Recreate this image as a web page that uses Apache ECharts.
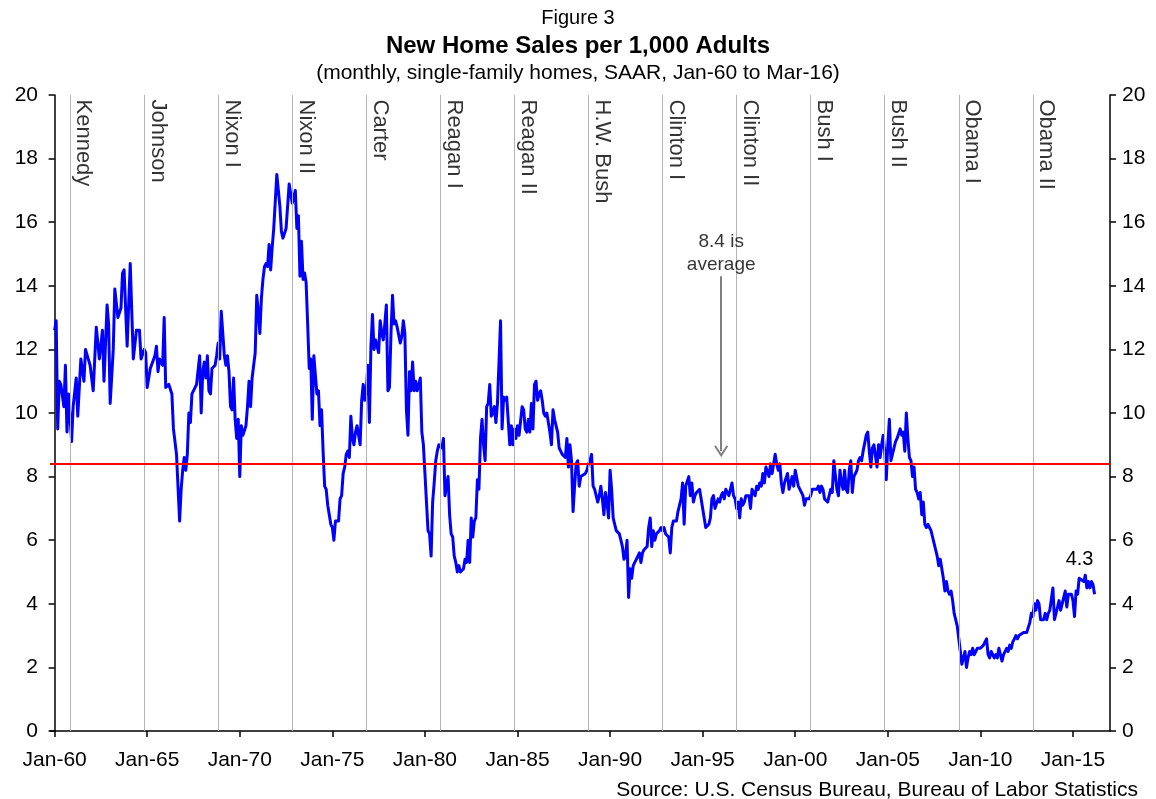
<!DOCTYPE html>
<html>
<head>
<meta charset="utf-8">
<title>New Home Sales per 1,000 Adults</title>
<script src="https://cdn.jsdelivr.net/npm/echarts@6/dist/echarts.min.js"></script>
<style>
  html, body { margin: 0; padding: 0; background: #fff; }
  #main { width: 1156px; height: 799px; }
</style>
</head>
<body>
<div id="main"></div>
<script>
  // months since Jan-60 (monthly series, vertices)
  const monthIdx = [
    0,1,2,3,4,6,7,8,9,11,12,14,15,17,19,20,23,25,27,29,31,32,34,35,36,38,39,41,43,44,45,47,49,51,53,55,56,58,59,
    60,62,63,65,66,67,68,70,71,72,74,76,77,79,80,81,82,83,84,85,86,87,88,89,91,92,94,95,96,97,98,99,100,101,102,104,105,106,107,108,109,
    110,111,112,113,114,115,116,117,118,119,120,121,122,124,125,126,127,128,129,130,131,132,133,134,135,136,137,138,139,140,141,142,144,146,147,148,150,151,152,153,154,156,157,158,159,
    160,161,162,163,164,165,166,167,168,170,171,172,173,174,175,176,177,178,179,180,181,182,184,185,186,187,188,189,190,191,192,193,194,195,196,198,199,200,201,202,203,204,205,206,207,208,210,211,212,213,214,215,216,217,218,219,
    220,221,222,224,225,226,227,228,229,230,231,232,233,234,235,237,238,239,240,241,242,243,244,245,246,247,248,249,251,252,253,254,255,256,257,258,259,260,261,262,263,265,266,267,268,269,270,271,272,273,274,275,276,277,278,279,
    280,281,282,283,284,285,286,287,289,290,291,292,293,295,296,297,298,299,300,301,303,304,305,306,307,308,309,310,311,312,313,314,315,316,317,318,319,321,322,323,324,325,326,327,328,329,331,332,333,334,335,336,337,338,339,
    340,341,342,344,345,346,347,348,349,350,352,353,354,355,356,357,358,359,360,361,362,363,364,366,367,368,369,370,371,372,373,374,375,376,377,378,379,380,381,382,384,385,386,387,388,389,390,391,392,393,394,395,396,398,399,
    400,401,403,404,405,406,407,408,409,411,412,413,414,415,416,417,418,419,420,421,422,424,425,426,427,428,429,430,431,432,433,434,435,437,438,439,440,441,442,443,444,445,446,447,448,450,451,452,453,454,455,456,457,458,459,
    460,461,463,464,465,466,467,468,469,470,471,472,473,475,476,477,478,479,480,481,482,483,485,486,487,488,489,490,491,492,494,495,496,497,498,499,500,501,502,503,504,505,507,508,509,510,511,512,513,514,515,516,517,518,520,
    521,522,523,524,525,526,527,528,529,530,531,533,534,535,536,537,538,539,540,541,542,543,544,545,546,547,548,549,550,551,552,553,554,555,556,557,558,559,560,561,562,563,564,565,566,567,568,569,570,571,572,573,574,575,576,
    577,578,579,580,581,582,583,584,585,586,588,589,590,591,592,593,594,595,596,597,598,600,601,602,603,604,605,606,607,608,609,610,611,612,614,615,616,617,618,619,620,621,622,623,624,625,626,628,629,630,631,632,633,634,635,
    636,637,638,639,641,642,643,644,645,646,647,648,649,650,651,652,654,655,656,657,658,659,660,661,662,663,664,665,667,668,669,670,671,672,673,674
  ];
  // new home sales per 1,000 adults
  const sales = [
    12.6,12.9,9.5,11.0,10.9,10.2,11.5,9.4,10.6,9.1,10.2,11.1,9.9,11.7,11.0,12.0,11.5,10.7,12.7,11.7,12.6,11.0,13.4,12.8,10.3,12.0,13.9,13.0,13.3,14.4,14.5,12.1,14.7,11.7,12.6,12.6,11.7,12.0,11.9,
    10.8,11.4,11.4,11.8,12.1,11.3,11.7,11.5,13.0,10.8,10.9,10.6,9.5,8.7,8.7,6.6,7.6,8.2,8.6,8.2,8.7,10.0,9.7,10.6,10.8,10.9,11.8,10.0,11.3,11.6,11.1,11.8,10.7,10.6,11.4,11.5,11.8,12.2,11.7,13.2,12.5,
    11.8,11.5,11.8,11.3,10.2,10.1,11.1,9.8,9.2,9.8,8.0,9.6,9.3,9.6,10.2,11.0,10.2,11.1,11.5,11.9,13.7,13.2,12.5,13.6,14.2,14.6,14.7,14.6,15.3,14.5,15.2,15.8,17.5,16.5,15.7,15.5,15.8,15.8,17.2,17.2,16.6,17.0,15.8,16.2,14.3,
    15.4,14.2,14.4,14.1,12.8,11.4,11.7,9.8,11.8,10.6,10.7,9.6,10.1,8.8,7.7,7.6,7.1,6.8,6.5,6.4,6.0,6.6,6.6,7.3,7.4,8.1,8.3,8.7,8.8,8.6,9.9,9.2,9.0,9.4,9.6,9.0,10.4,10.9,10.4,10.7,11.5,9.7,12.1,13.1,12.0,12.3,11.9,12.9,12.5,12.3,12.8,13.4,10.7,10.8,12.5,13.7,
    12.8,12.9,12.7,12.2,12.4,12.9,12.5,10.1,9.3,11.3,10.7,11.6,10.7,11.0,10.7,11.1,9.4,9.0,8.1,8.1,6.3,6.2,5.5,7.2,7.8,8.5,8.8,9.0,8.9,9.2,7.4,7.4,8.0,6.8,6.2,6.1,5.5,5.3,5.0,5.2,5.0,5.1,5.4,5.3,6.0,5.3,6.7,6.1,6.6,6.7,7.9,7.6,9.2,9.8,9.0,8.5,
    10.2,10.3,10.9,9.9,10.0,10.2,9.7,10.3,12.9,9.5,10.5,10.4,10.5,9.0,9.6,9.0,9.5,9.2,9.6,9.3,10.2,10.1,9.5,9.4,9.8,9.4,10.3,9.5,10.9,11.0,10.4,10.6,10.7,10.4,10.0,9.9,10.0,9.4,9.0,10.1,9.8,9.8,9.4,8.9,8.8,8.7,8.6,9.2,8.3,9.0,8.5,6.9,7.7,8.4,8.5,
    7.7,8.0,8.0,8.1,8.2,8.4,8.5,8.7,7.7,7.6,7.2,7.4,7.7,7.3,6.8,7.5,7.2,6.7,8.2,7.6,6.7,6.5,6.3,6.2,6.0,5.8,5.4,5.5,6.0,4.2,5.1,4.8,5.2,5.3,5.4,5.5,5.6,5.3,5.6,5.7,5.8,6.4,6.7,5.8,6.3,6.0,6.2,6.2,6.3,6.4,6.3,6.4,6.2,6.1,5.6,
    6.4,6.6,6.6,6.9,7.1,7.3,7.8,6.5,7.7,8.0,7.4,7.8,7.2,7.4,7.5,7.5,7.6,7.3,7.0,6.7,6.4,6.5,6.7,7.3,7.4,7.0,7.0,7.3,7.2,7.4,7.5,7.3,7.6,7.4,7.6,7.8,7.4,7.3,7.0,7.2,6.7,7.3,7.1,7.2,7.4,7.4,7.0,7.6,7.5,7.4,7.7,7.6,7.8,7.7,8.1,
    7.8,8.3,8.0,8.4,8.1,8.4,8.7,8.4,8.2,8.4,7.8,7.5,7.8,8.1,7.6,7.6,8.0,7.7,8.2,8.2,7.7,7.7,7.4,7.1,7.3,7.3,7.3,7.4,7.6,7.6,7.6,7.7,7.5,7.7,7.6,7.3,7.3,7.2,7.4,7.6,7.5,8.5,7.6,7.4,8.2,7.8,7.6,8.2,7.6,7.5,8.2,8.5,7.5,8.0,8.2,
    8.5,8.6,8.5,8.8,8.8,9.3,9.4,8.8,8.3,8.9,9.0,8.3,9.0,8.6,9.0,9.3,8.8,7.9,9.0,9.8,8.5,8.7,8.9,9.1,9.2,9.2,9.5,9.3,9.4,8.8,10.0,9.2,8.6,8.5,8.0,8.3,7.6,7.5,7.3,7.5,6.8,7.2,6.5,6.4,6.5,6.4,6.3,6.1,5.9,5.7,5.5,5.2,5.4,5.1,4.8,
    4.4,4.7,4.4,4.3,4.4,4.1,3.7,3.5,3.3,2.9,2.1,2.3,2.5,2.0,2.3,2.5,2.4,2.6,2.4,2.5,2.6,2.6,2.6,2.7,2.8,2.9,2.4,2.3,2.5,2.5,2.3,2.4,2.3,2.6,2.2,2.4,2.4,2.6,2.5,2.7,2.6,2.8,2.9,3.0,2.9,3.0,3.0,3.1,3.1,3.1,3.1,3.4,3.7,3.6,4.0,
    3.8,4.1,4.0,3.5,3.5,3.7,3.5,3.7,3.8,3.8,4.5,3.5,3.7,3.9,4.1,3.8,4.2,4.4,3.9,4.3,4.3,4.3,4.1,3.6,4.4,4.3,4.8,4.8,4.7,4.9,4.5,4.7,4.5,4.7,4.6,4.3
  ];

  // x axis ticks every 5 years (Jan), in months since Jan-60
  const tickMonths = [0, 60, 120, 180, 240, 300, 360, 420, 480, 540, 600, 660];
  // presidential terms, line drawn at the November election before each term
  const presidents = ['Kennedy', 'Johnson', 'Nixon I', 'Nixon II', 'Carter', 'Reagan I', 'Reagan II',
    'H.W. Bush', 'Clinton I', 'Clinton II', 'Bush I', 'Bush II', 'Obama I', 'Obama II'];
  const electionMonth = [10, 58, 106, 154, 202, 250, 298, 346, 394, 442, 490, 538, 586, 634];
  const average = 8.4;
  const arrowMonth = 432;
  const arrowFrom = 14.3;
  const arrowTo = 8.8;
  const lastLabel = '4.3';

  const FONT = 'Liberation Sans, Arial, sans-serif';

  function monthLabel(m) {
    const yy = (1960 + Math.round(m / 12)) % 100;
    return 'Jan-' + (yy < 10 ? '0' + yy : yy);
  }

  const lineData = monthIdx.map((m, i) => [m, sales[i]]);
  const lastIdx = lineData.length - 1;

  const myChart = echarts.init(document.getElementById('main'), null, { renderer: 'canvas' });
  myChart.setOption({
    animation: false,
    backgroundColor: '#fff',
    textStyle: { fontFamily: FONT },
    title: [{
      text: 'Figure 3',
      left: 'center', top: 8, padding: 0,
      textStyle: { fontSize: 20, fontWeight: 'normal', color: '#000', fontFamily: FONT }
    }, {
      text: 'New Home Sales per 1,000 Adults',
      left: 'center', top: 34, padding: 0,
      textStyle: { fontSize: 24, fontWeight: 'bold', color: '#000', fontFamily: FONT }
    }, {
      text: '(monthly, single-family homes, SAAR, Jan-60 to Mar-16)',
      left: 'center', top: 63, padding: 0,
      textStyle: { fontSize: 21, fontWeight: 'normal', color: '#000', fontFamily: FONT }
    }, {
      text: 'Source: U.S. Census Bureau, Bureau of Labor Statistics',
      right: 18, top: 780, padding: 0,
      textStyle: { fontSize: 21, fontWeight: 'normal', color: '#000', fontFamily: FONT }
    }],
    grid: { left: 50, right: 46, top: 95, bottom: 68 },
    xAxis: {
      type: 'value',
      min: -3,
      max: 684,
      axisLine: { show: true, onZero: false, lineStyle: { color: '#000', width: 1.5 } },
      axisTick: { show: true, customValues: tickMonths, length: 6, lineStyle: { color: '#000', width: 1.5 } },
      axisLabel: { customValues: tickMonths, formatter: monthLabel, fontSize: 21, color: '#000', margin: 19, fontFamily: FONT },
      splitLine: { show: false }
    },
    yAxis: [{
      type: 'value', position: 'left', min: 0, max: 20, interval: 2,
      axisLine: { show: true, lineStyle: { color: '#000', width: 1.5 } },
      axisTick: { show: true, length: 6, lineStyle: { color: '#000', width: 1.5 } },
      axisLabel: { fontSize: 21, color: '#000', margin: 12, fontFamily: FONT },
      splitLine: { show: false }
    }, {
      type: 'value', position: 'right', min: 0, max: 20, interval: 2,
      axisLine: { show: true, lineStyle: { color: '#000', width: 1.5 } },
      axisTick: { show: true, length: 6, lineStyle: { color: '#000', width: 1.5 } },
      axisLabel: { fontSize: 21, color: '#000', margin: 12, fontFamily: FONT },
      splitLine: { show: false }
    }],
    series: [{
      // presidential term gridlines
      type: 'line', data: [], silent: true, z: 1,
      markLine: {
        silent: true, symbol: ['none', 'none'], animation: false,
        label: { show: false },
        lineStyle: { color: '#b4b4b4', width: 1, type: 'solid' },
        data: electionMonth.map(m => ({ xAxis: m }))
      }
    }, {
      name: 'New home sales per 1,000 adults',
      type: 'line',
      data: lineData,
      showSymbol: false,
      symbol: 'none',
      z: 3,
      lineStyle: { color: '#0000ff', width: 3, join: 'round' },
      itemStyle: { color: '#0000ff' },
      markPoint: {
        symbol: 'circle', symbolSize: 0, silent: true,
        label: { show: true, formatter: lastLabel, position: 'top', offset: [-15, -20], fontSize: 20, color: '#000', fontFamily: FONT },
        data: [{ coord: lineData[lastIdx] }]
      }
    }, {
      // average line
      type: 'line', data: [], silent: true, z: 4,
      markLine: {
        silent: true, animation: false, symbol: ['none', 'none'],
        label: { show: false },
        lineStyle: { color: '#ff0000', width: 2, type: 'solid' },
        data: [{ yAxis: average }]
      }
    }, {
      // arrow pointing at the average line
      type: 'line', data: [], silent: true, z: 4,
      markLine: {
        silent: true, animation: false,
        symbol: ['none', 'path://M7,0 L14,11 L12.4,12.2 L7,3.6 L1.6,12.2 L0,11 Z'],
        symbolSize: [14, 12],
        label: { show: false },
        lineStyle: { color: '#808080', width: 2, type: 'solid' },
        data: [[{ coord: [arrowMonth, arrowFrom] }, { coord: [arrowMonth, arrowTo] }]]
      }
    }, {
      // president names
      type: 'scatter', z: 5, silent: true,
      symbol: 'circle', symbolSize: 1,
      itemStyle: { color: 'rgba(0,0,0,0)' },
      data: electionMonth.map(m => [m, 20]),
      label: {
        show: true,
        formatter: p => presidents[p.dataIndex],
        position: [3, 5],
        rotate: -90,
        align: 'left',
        verticalAlign: 'bottom',
        fontSize: 22,
        color: '#000',
        fontFamily: FONT
      }
    }, {
      // annotation text
      type: 'scatter', z: 5, silent: true,
      symbol: 'circle', symbolSize: 1,
      itemStyle: { color: 'rgba(0,0,0,0)' },
      data: [[arrowMonth, arrowFrom]],
      label: {
        show: true,
        formatter: '8.4 is\naverage',
        position: 'top',
        distance: 2,
        offset: [0, 3],
        align: 'center',
        lineHeight: 23,
        fontSize: 19,
        color: '#000',
        fontFamily: FONT
      }
    }]
  });
</script>
</body>
</html>
